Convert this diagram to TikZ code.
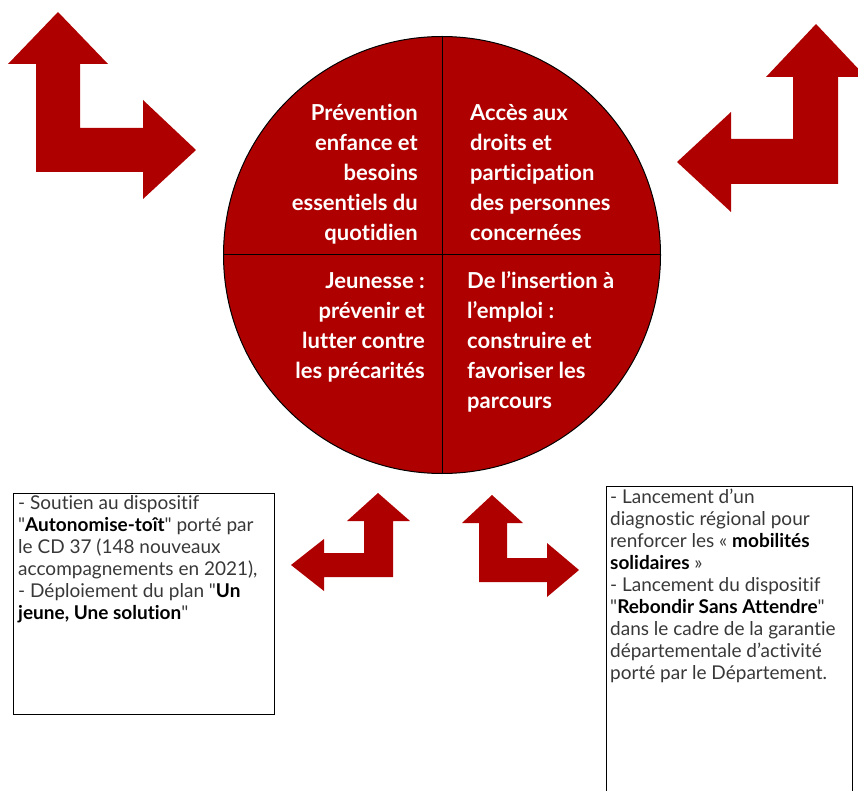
\documentclass[tikz,border=0pt]{standalone}
\usepackage{fontspec}
\setmainfont{Lato}[Ligatures={TeX,NoCommon}]
\usepackage{tikz}
\definecolor{planred}{HTML}{AF0000}
\tikzset{
    quarter/.style={text=white, font=\bfseries\fontsize{22}{30}\selectfont, inner sep=0pt},
    infotext/.style={text=black!78, font=\fontsize{19}{22}\selectfont, align=left, inner sep=0pt, anchor=north west},
    bent/.style={fill=planred}}
\newcommand{\keyword}[1]{\textcolor{black}{\bfseries #1}}
\newcommand{\qt}{\textquotedbl}

\begin{document}
\begin{tikzpicture}[x=1pt, y=-1pt]

            \useasboundingbox (0,0) rectangle (858,791);

            \node[shape=circle, draw=black, fill=planred, line width=1pt, minimum size=437pt, inner sep=0pt] (disc) at (442,255) {};
            \draw[line width=1pt] (disc.north) -- (disc.south);
            \draw[line width=1pt] (disc.west) -- (disc.east);

            \node[quarter, align=right, anchor=north east] (prevention) at (418,104) {Prévention\\enfance et\\besoins\\essentiels du\\quotidien};
            \node[quarter, align=left, anchor=north west] (acces) at (470,104) {Accès aux\\droits et\\participation\\des personnes\\concernées};
            \node[quarter, align=right, anchor=north east] (jeunesse) at (425,272) {Jeunesse :\\prévenir et\\lutter contre\\les précarités};
            \node[quarter, align=left, anchor=north west] (insertion) at (467,271) {De l’insertion à\\l’emploi :\\construire et\\favoriser les\\parcours};

            \fill[bent] (58,12) -- (108,64) -- (80,64) -- (80,128) -- (143,128) -- (143,100) -- (196,150) -- (143,199) -- (143,172) -- (36,172) -- (36,64) -- (8,64) -- cycle;
            \fill[bent] (816,24) -- (866,77) -- (838,77) -- (838,184) -- (731,184) -- (731,212) -- (677,162) -- (731,112) -- (731,139) -- (793,139) -- (793,77) -- (766,77) -- cycle;
            \fill[bent] (378,493) -- (410,521) -- (393,521) -- (393,577) -- (324,577) -- (324,591) -- (291,565) -- (324,539) -- (324,553) -- (364,553) -- (364,521) -- (347,521) -- cycle;
            \fill[bent] (492,495) -- (523,523) -- (507,523) -- (507,558) -- (547,558) -- (547,543) -- (579,570) -- (547,597) -- (547,582) -- (479,582) -- (479,523) -- (462,523) -- cycle;

            \draw[line width=1pt] (13,493) rectangle (274,714);
            \draw[line width=1pt] (606,800) -- (606,486) -- (852,486) -- (852,800);

            \node[infotext] (jeunes) at (18,495) {- Soutien au dispositif\\\qt\keyword{Autonomise-toît}\qt{} porté par\\le CD 37 (148 nouveaux\\accompagnements en 2021),\\- Déploiement du plan \qt\keyword{Un}\\\keyword{jeune, Une solution}\qt};
            \node[infotext] (emploi) at (610,489) {- Lancement d’un\\diagnostic régional pour\\renforcer les « \keyword{mobilités}\\\keyword{solidaires} »\\- Lancement du dispositif\\\qt\keyword{Rebondir Sans Attendre}\qt\\dans le cadre de la garantie\\départementale d’activité\\porté par le Département.};

        \end{tikzpicture}
\end{document}
